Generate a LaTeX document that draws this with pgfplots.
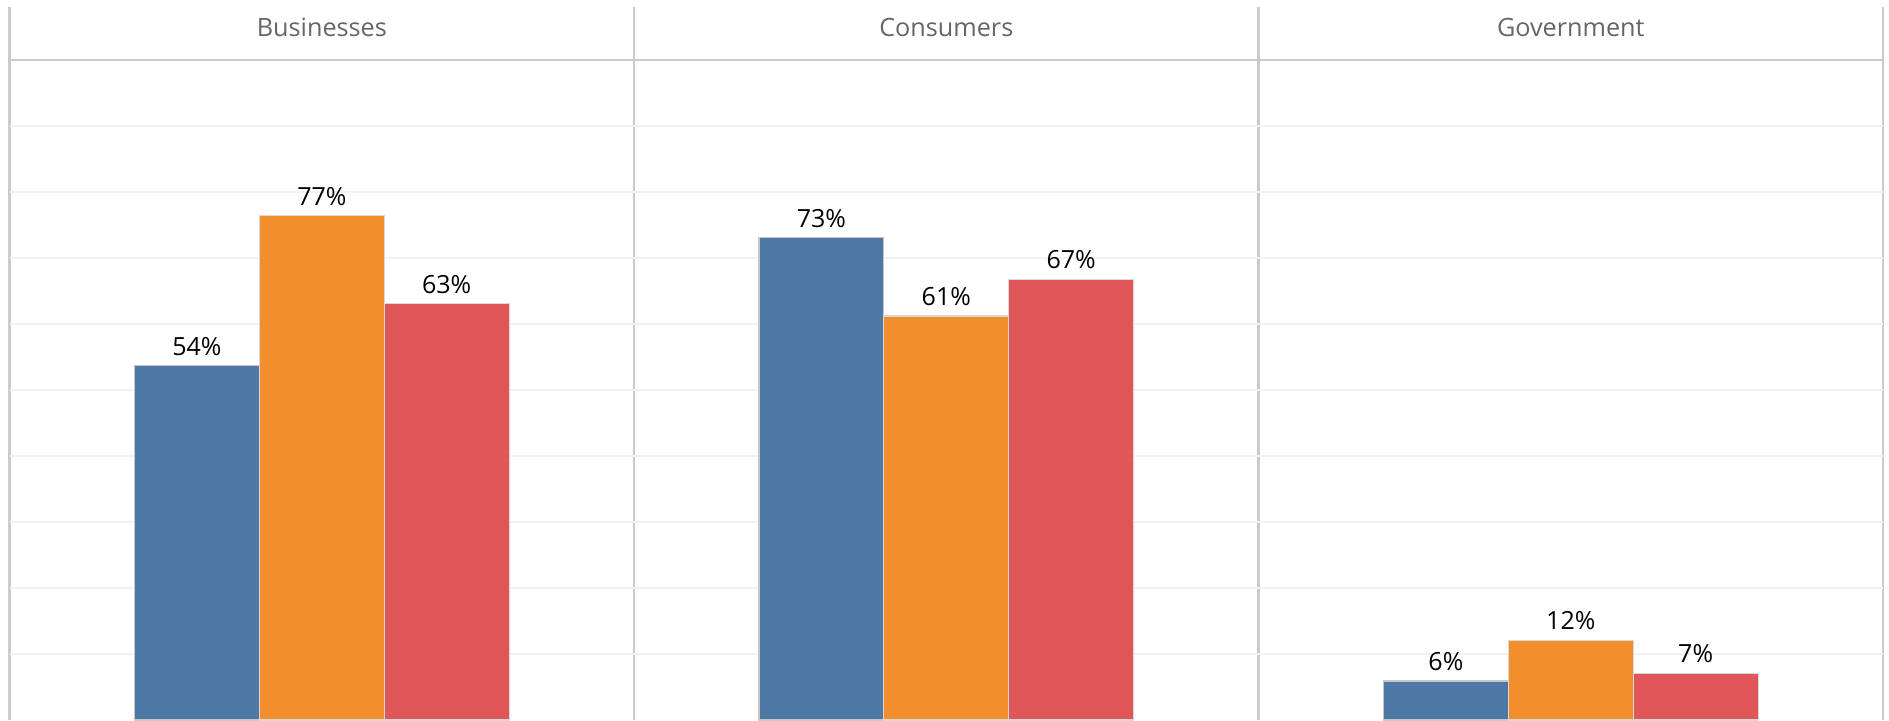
\documentclass[border=0pt]{standalone}
\usepackage{pgfplots}
\pgfplotsset{compat=1.18}
\usepackage{fontspec}
\setmainfont{Open Sans}
\definecolor{tblue}{HTML}{4E79A7}
\definecolor{torange}{HTML}{F28E2B}
\definecolor{tred}{HTML}{E15759}
\definecolor{divider}{HTML}{CBCBCB}
\definecolor{gridc}{HTML}{F2F2F2}
\definecolor{headtext}{HTML}{666666}
\begin{document}
\begin{tikzpicture}
\path[use as bounding box] (-4.8pt,0pt) rectangle (939.7pt,360pt);
\begin{axis}[
  scale only axis, width=936.7pt, height=356.4pt,
  xmin=0, xmax=15, ymin=0, ymax=108,
  axis line style={draw=none},
  tick style={draw=none},
  xtick={0,5,10,15}, xticklabels={},
  ytick={10,20,...,90}, yticklabels={},
  xmajorgrids, ymajorgrids,
  x grid style={color=divider, line width=1.2pt},
  y grid style={color=gridc, line width=0.8pt},
  ybar, bar width=1, bar shift=0pt,
  point meta=explicit symbolic,
  nodes near coords={\pgfplotspointmeta\%},
  every node near coord/.append style={font=\fontsize{12.5}{14}\selectfont, text=black, yshift=1.5pt},
  clip=false,
]
\draw[divider, line width=1.2pt] (axis cs:0,100) -- (axis cs:15,100);
\addplot[fill=tblue, draw=black!22, line width=0.6pt] coordinates {(1.5,53.7) [54] (6.5,73.1) [73] (11.5,5.9) [6]};
\addplot[fill=torange, draw=black!15, line width=0.6pt] coordinates {(2.5,76.4) [77] (7.5,61.2) [61] (12.5,12.1) [12]};
\addplot[fill=tred, draw=black!15, line width=0.6pt] coordinates {(3.5,63.1) [63] (8.5,66.8) [67] (13.5,7.1) [7]};
\node[font=\fontsize{12.6}{15}\selectfont, text=headtext] at (axis cs:2.5,104.9) {Businesses};
\node[font=\fontsize{12.6}{15}\selectfont, text=headtext] at (axis cs:7.5,104.9) {Consumers};
\node[font=\fontsize{12.6}{15}\selectfont, text=headtext] at (axis cs:12.5,104.9) {Government};
\end{axis}
\end{tikzpicture}
\end{document}
